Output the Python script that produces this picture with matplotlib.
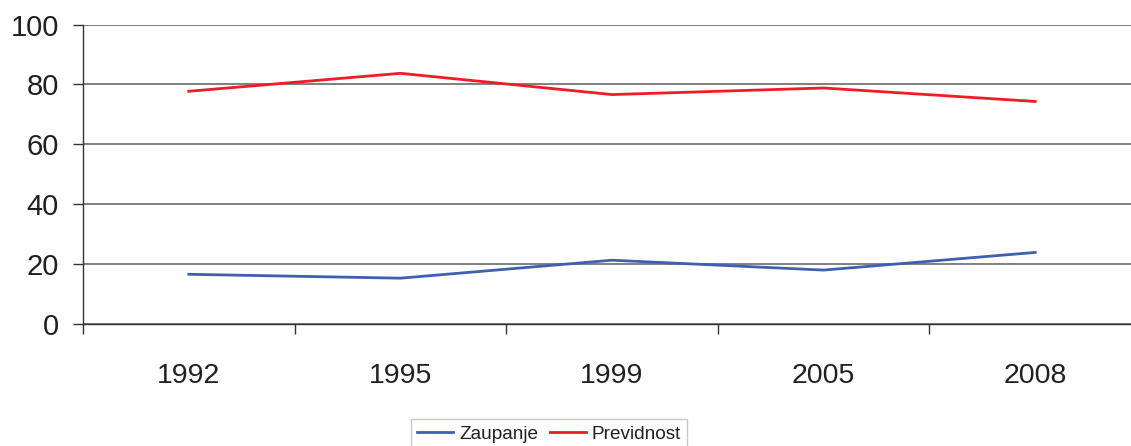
import numpy as np
import matplotlib
matplotlib.use("Agg")
import matplotlib.pyplot as plt

plt.rcParams['font.family'] = ['Liberation Sans', 'DejaVu Sans']

# data
years = ["1992", "1995", "1999", "2005", "2008"]
zaupanje = [16.6, 15.3, 21.3, 18.0, 23.9]
previdnost = [77.7, 83.7, 76.6, 78.8, 74.3]

fig = plt.figure(figsize=(11.31, 4.46), dpi=100)
# plot area runs a bit past the right image edge, like the original crop
W, H = 1131.0, 446.0
ax = fig.add_axes([83 / W, (H - 324) / H, (1141 - 83) / W, 299.5 / H])

x = np.arange(len(years))
ax.plot(x, zaupanje, color='#3f60b0', lw=2.0, label='Zaupanje')
ax.plot(x, previdnost, color='#ee1c25', lw=2.0, label='Previdnost')

ax.set_xlim(-0.5, len(years) - 0.5)
ax.set_ylim(0, 100)
ax.set_yticks([0, 20, 40, 60, 80, 100])
ax.set_xticks(x)
ax.set_xticklabels(years)
ax.set_xticks(np.arange(len(years) + 1) - 0.5, minor=True)

ax.yaxis.grid(True, color='#6a6a6a', lw=1.2)
ax.set_axisbelow(True)

for s in ['top', 'right']:
    ax.spines[s].set_visible(False)
ax.spines['left'].set_color('#333333')
ax.spines['bottom'].set_color('#333333')
ax.spines['left'].set_linewidth(1.0)
ax.spines['bottom'].set_linewidth(1.0)

ax.tick_params(axis='y', length=7.5, width=1.0, color='#333333', pad=10,
               labelsize=21, labelcolor='#231f20')
ax.tick_params(axis='x', which='major', length=0, pad=28,
               labelsize=20.5, labelcolor='#231f20')
ax.tick_params(axis='x', which='minor', length=7.5, width=1.0, color='#333333')

leg = fig.legend(loc='upper center', bbox_to_anchor=(549 / W, 1 - 419 / H),
                 ncol=2, fontsize=13.7, frameon=True, fancybox=False,
                 borderaxespad=0, handlelength=1.9, handletextpad=0.3,
                 columnspacing=0.6, borderpad=0.35, edgecolor='#bbbbbb')
leg.get_frame().set_linewidth(1.0)
for t in leg.get_texts():
    t.set_color('#231f20')

plt.savefig('out.png', dpi=100)
